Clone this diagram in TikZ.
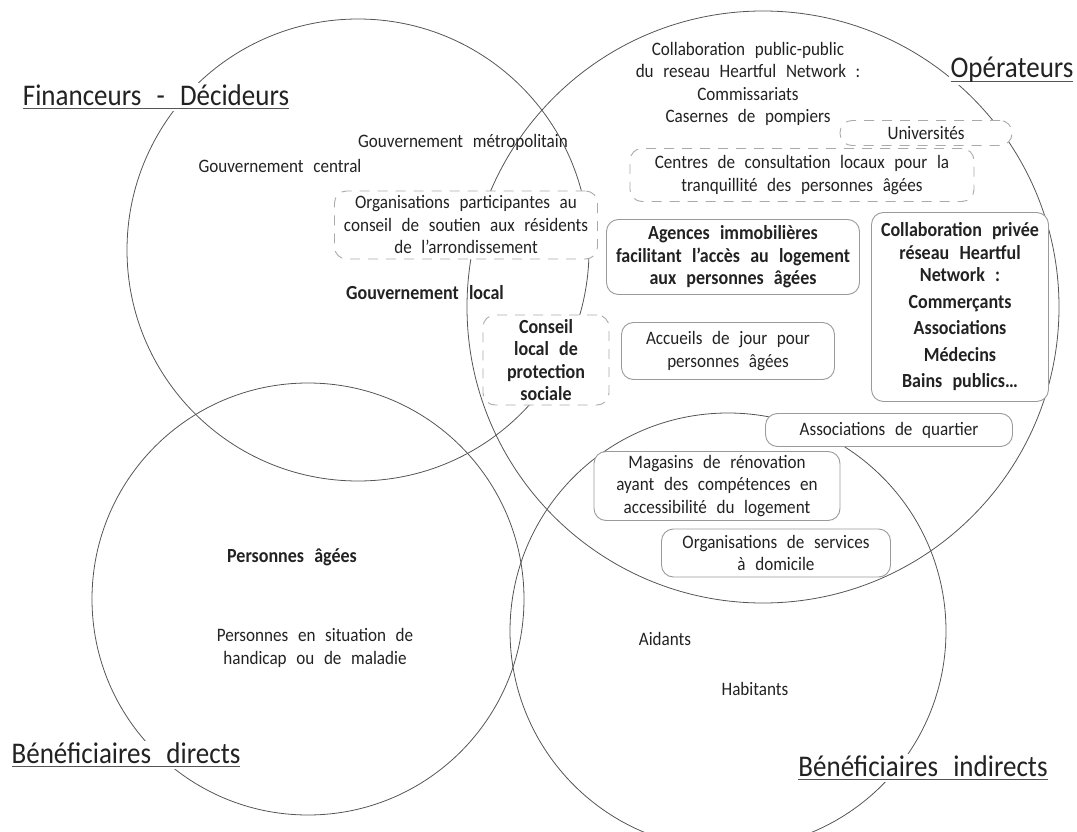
\documentclass[tikz,border=0pt]{standalone}
\usepackage{fontspec}
\setmainfont{Carlito}[WordSpace=2.5, FakeStretch=0.9]
\usepackage{tikz}
\usetikzlibrary{positioning}

\definecolor{ringgray}{HTML}{555555}
\definecolor{boxgray}{HTML}{9A9A9A}
\definecolor{dashgray}{HTML}{AAAAAA}
\definecolor{txtgray}{HTML}{222222}
\newcommand{\ulabel}[1]{\setbox0=\hbox{#1}\rlap{\color{ringgray}\rule[-4pt]{\wd0}{1.1pt}}\box0}

\begin{document}
\begin{tikzpicture}[
		x=1pt, y=-1pt,
		every node/.style={font=\fontsize{19}{22.5}\selectfont, text=txtgray, inner sep=0pt},
		ring/.style={circle, draw=ringgray, line width=0.8pt},
		title/.style={font=\fontsize{30}{32}\selectfont, fill=white, inner sep=2pt},
		plain/.style={align=center},
		heavy/.style={font=\fontsize{20}{22.5}\selectfont\bfseries},
		solidbox/.style={rounded corners=12pt, draw=boxgray, line width=0.9pt, fill=white, align=center},
		dashbox/.style={solidbox, draw=dashgray, dash pattern=on 10pt off 8pt}
		]
		
		\useasboundingbox (0,0) rectangle (1077,832);
		
		% the four groups
		\node[ring, minimum size=462pt] (fin) at (358,250) {};
		\node[ring, minimum size=592pt] (ope) at (763,307) {};
		\node[ring, minimum size=432pt] (dir) at (308,599) {};
		\node[ring, minimum size=436pt] (ind) at (728,631) {};
		
		\node[title] (tfin) at (156,97) {\ulabel{Financeurs - Décideurs}};
		\node[title] (tope) at (1012,70) {\ulabel{Opérateurs}};
		\node[title] (tdir) at (126,755) {\ulabel{Bénéficiaires directs}};
		\node[title] (tind) at (923,768) {\ulabel{Bénéficiaires indirects}};
		
		% financeurs
		\node[plain] (gmetro) at (463,142) {Gouvernement métropolitain};
		\node[plain] (gcentral) at (280,166) {Gouvernement central};
		\node[plain, heavy] (glocal) at (425,293) {Gouvernement local};
		\node[dashbox, minimum width=263pt, minimum height=68pt] (csoutien) at (466,225)
			{Organisations participantes au\\conseil de soutien aux résidents\\de l’arrondissement};
		\node[dashbox, heavy, minimum width=126pt, minimum height=90pt] (clocal) at (546,360)
			{Conseil\\local de\\protection\\sociale};
		
		% operateurs
		\node[plain] (pubpub) at (748,84)
			{Collaboration public-public\\du reseau Heartful Network :\\Commissariats\\Casernes de pompiers};
		\node[dashbox, minimum width=172pt, minimum height=25pt] (univ) at (926,133) {Universités};
		\node[dashbox, minimum width=344pt, minimum height=53pt] (centres) at (802,175)
			{Centres de consultation locaux pour la\\tranquillité des personnes âgées};
		\node[solidbox, heavy, minimum width=253pt, minimum height=75pt] (agences) at (733,257)
			{Agences immobilières\\facilitant l’accès au logement\\aux personnes âgées};
		\node[solidbox, minimum width=213pt, minimum height=57pt] (accueils) at (728,351)
			{Accueils de jour pour\\personnes âgées};
		\node[solidbox, heavy, minimum width=177pt, minimum height=189pt] (privee) at (960,307)
			{Collaboration privée\\réseau Heartful\\Network :\\[4pt]Commerçants\\[4pt]Associations\\[4pt]Médecins\\[4pt]Bains publics…};
		\node[solidbox, minimum width=247pt, minimum height=33pt] (quartier) at (889,430) {Associations de quartier};
		\node[solidbox, minimum width=246pt, minimum height=69pt] (magasins) at (717,486)
			{Magasins de rénovation\\ayant des compétences en\\accessibilité du logement};
		\node[solidbox, minimum width=229pt, minimum height=48pt] (services) at (776,553)
			{Organisations de services\\à domicile};
		
		% beneficiaires
		\node[plain, heavy] (pagees) at (292,557) {Personnes âgées};
		\node[plain] (handicap) at (315,648) {Personnes en situation de\\handicap ou de maladie};
		\node[plain] (aidants) at (665,639) {Aidants};
		\node[plain] (habitants) at (755,689) {Habitants};
		
	\end{tikzpicture}
\end{document}
